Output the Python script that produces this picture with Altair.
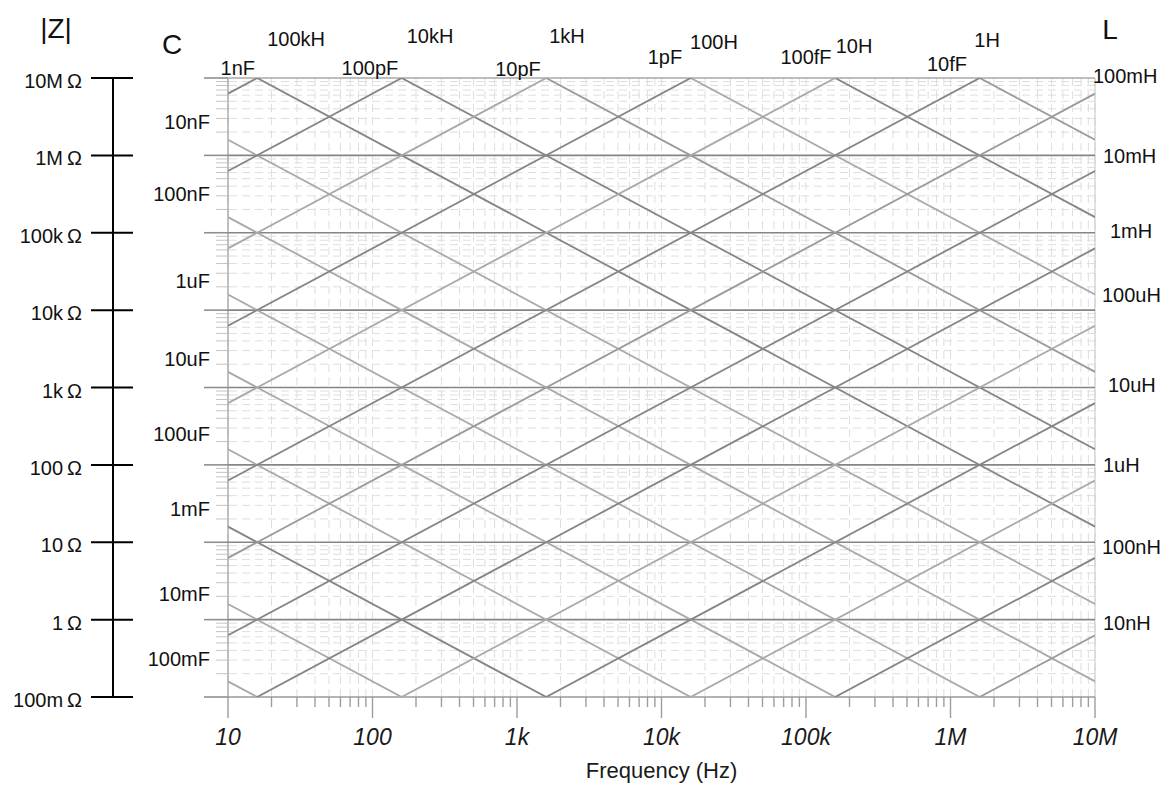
import math
import altair as alt
import pandas as pd

FONT = "Liberation Sans"

# ---------------- data ----------------
freq_decades = [10, 100, 1000, 10000, 100000, 1000000, 10000000]
freq_tick_labels = ["10", "100", "1k", "10k", "100k", "1M", "10M"]
minor_steps = [2, 3, 4, 5, 6, 7, 8, 9]
x_title = "Frequency (Hz)"

z_decades = [1e7, 1e6, 1e5, 1e4, 1e3, 1e2, 1e1, 1e0, 1e-1]
z_tick_labels = ["10M\u2009Ω", "1M\u2009Ω", "100k\u2009Ω", "10k\u2009Ω", "1k\u2009Ω",
                 "100\u2009Ω", "10\u2009Ω", "1\u2009Ω", "100m\u2009Ω"]
z_rule_tone = ["edge", "line", "line", "line", "line", "line", "line", "line", "bottom"]

# capacitors (Z = 1 / (2 pi f C))
cap_names = ["10fF", "100fF", "1pF", "10pF", "100pF", "1nF", "10nF", "100nF",
             "1uF", "10uF", "100uF", "1mF", "10mF", "100mF"]
cap_values = [1e-14, 1e-13, 1e-12, 1e-11, 1e-10, 1e-9, 1e-8, 1e-7,
              1e-6, 1e-5, 1e-4, 1e-3, 1e-2, 1e-1]
cap_tones = ["light", "mid", "dark", "light", "mid", "mid", "dark", "dark",
             "dark", "dark", "dark", "mid", "dark", "dark"]

# inductors (Z = 2 pi f L)
ind_names = ["100kH", "10kH", "1kH", "100H", "10H", "1H", "100mH", "10mH",
             "1mH", "100uH", "10uH", "1uH", "100nH", "10nH"]
ind_values = [1e5, 1e4, 1e3, 1e2, 1e1, 1e0, 1e-1, 1e-2,
              1e-3, 1e-4, 1e-5, 1e-6, 1e-7, 1e-8]
ind_tones = ["mid", "mid", "dark", "mid", "dark", "mid", "light", "mid",
             "mid", "dark", "mid", "dark", "mid", "light"]

# annotation anchors (frequency in Hz, impedance in ohm)
top_c_text = ["1nF", "100pF", "10pF", "1pF", "100fF", "10fF"]
top_c_f = [11.7, 96.0, 1016.0, 10570.0, 100000.0, 946000.0]
top_c_z = [1.31e7, 1.31e7, 1.27e7, 1.81e7, 1.81e7, 1.47e7]

top_l_text = ["100kH", "10kH", "1kH", "100H", "10H", "1H"]
top_l_f = [29.6, 250.0, 2218.0, 23070.0, 214800.0, 1.79e6]
top_l_z = [3.10e7, 3.39e7, 3.39e7, 2.83e7, 2.52e7, 3.01e7]

left_c_text = ["10nF", "100nF", "1uF", "10uF", "100uF", "1mF", "10mF", "100mF"]
left_c_f = [7.5, 7.5, 7.5, 7.5, 7.5, 7.5, 7.5, 7.5]
left_c_z = [2.62e6, 3.08e5, 2.31e4, 2265.0, 243.0, 26.1, 2.08, 0.30]

right_l_text = ["100mH", "10mH", "1mH", "100uH", "10uH", "1uH", "100nH", "10nH"]
right_l_f = [9.68e6, 1.135e7, 1.27e7, 1.117e7, 1.23e7, 1.135e7, 1.117e7, 1.135e7]
right_l_z = [1.03e7, 9.53e5, 1.02e5, 1.52e4, 1047.0, 96.8, 8.43, 0.879]

header_text = ["|Z|", "C", "L"]
header_f = [0.645, 4.10, 1.27e7]
header_z = [4.17e7, 2.59e7, 4.05e7]

# ---------------- tables ----------------
f_lo, f_hi = freq_decades[0], freq_decades[-1]
line_rows = []
for n, c, t in zip(cap_names, cap_values, cap_tones):
    for f in (f_lo, f_hi):
        line_rows.append({"name": n, "f": f, "z": 1.0 / (2 * math.pi * f * c), "tone": t})
for n, l, t in zip(ind_names, ind_values, ind_tones):
    for f in (f_lo, f_hi):
        line_rows.append({"name": n, "f": f, "z": 2 * math.pi * f * l, "tone": t})
df_lines = pd.DataFrame(line_rows)

f_minor = [float(f"{k}e{e}") for e in range(1, 7) for k in minor_steps]
z_minor = [float(f"{k}e{e}") for e in range(-1, 7) for k in minor_steps]
df_fdec = pd.DataFrame({"f": freq_decades, "label": freq_tick_labels})
df_fmin = pd.DataFrame({"f": f_minor})
df_fall = pd.DataFrame({"f": freq_decades + f_minor})
df_zdec = pd.DataFrame({"z": z_decades, "label": z_tick_labels, "tone": z_rule_tone})
df_zmin = pd.DataFrame({"z": z_minor})

xs = alt.Scale(type="log", domain=[10, 1e7])
ys = alt.Scale(type="log", domain=[0.1, 1e7])

W, H = 867, 619

def X(field="f"):
    return alt.X(f"{field}:Q", scale=xs, axis=None)

def Y(field="z"):
    return alt.Y(f"{field}:Q", scale=ys, axis=None)

# ---------------- grid ----------------
vgrid = alt.Chart(df_fall).mark_rule(color="#dedede", strokeWidth=1, strokeDash=[8, 5]).encode(x=X())
hgrid = alt.Chart(df_zmin).mark_rule(color="#dedede", strokeWidth=1, strokeDash=[8, 5]).encode(y=Y())

left_minor_ticks = alt.Chart(df_zmin).mark_rule(color="#c4c4c4", strokeWidth=1).encode(
    x=alt.value(-12), x2=alt.value(0), y=Y())
left_major_ticks = alt.Chart(df_zdec).mark_rule(color="#8f8f8f", strokeWidth=1.6).encode(
    x=alt.value(-24), x2=alt.value(0), y=Y())

bottom_minor_ticks = alt.Chart(df_fmin).mark_rule(color="#9d9d9d", strokeWidth=1.4).encode(
    x=X(), y=alt.value(H), y2=alt.value(H + 10))
bottom_major_ticks = alt.Chart(df_fdec).mark_rule(color="#9d9d9d", strokeWidth=1.4).encode(
    x=X(), y=alt.value(H), y2=alt.value(H + 21))

left_border = alt.Chart(pd.DataFrame({"f": [f_lo]})).mark_rule(color="#a8a8a8", strokeWidth=1.4).encode(x=X())
right_border = alt.Chart(pd.DataFrame({"f": [f_hi]})).mark_rule(color="#cfcfcf", strokeWidth=1.2).encode(x=X())

decade_rules = alt.Chart(df_zdec).mark_rule(strokeWidth=1.6).encode(
    y=Y(),
    color=alt.Color("tone:N", scale=alt.Scale(domain=["edge", "line", "bottom"],
                                              range=["#a9a9a9", "#858585", "#9a9a9a"]), legend=None))

# ---------------- component lines ----------------
lines = alt.Chart(df_lines).mark_line(clip=True, strokeWidth=1.8).encode(
    x=X(),
    y=Y(),
    detail="name:N",
    color=alt.Color("tone:N", scale=alt.Scale(domain=["dark", "mid", "light"],
                                              range=["#484848", "#6f6f6f", "#989898"]), legend=None),
)

# ---------------- frequency axis labels ----------------
x_labels = alt.Chart(df_fdec).mark_text(align="center", baseline="middle", font=FONT, fontSize=23,
                                        fontStyle="italic", color="#1a1a1a").encode(
    x=X(), y=alt.value(H + 41), text="label:N")
x_title_mark = alt.Chart(pd.DataFrame({"t": [x_title]})).mark_text(
    align="center", baseline="alphabetic", font=FONT, fontSize=22, color="#1a1a1a").encode(
    x=alt.value(W / 2), y=alt.value(H + 81), text="t:N")

# ---------------- text ----------------
def text_layer(texts, fs, zs, align, size, dy=0):
    df = pd.DataFrame({"t": texts, "f": fs, "z": zs})
    return alt.Chart(df).mark_text(align=align, baseline="middle", font=FONT, fontSize=size,
                                   color="#111111", dy=dy).encode(x=X(), y=Y(), text="t:N")

t_top_c = text_layer(top_c_text, top_c_f, top_c_z, "center", 20)
t_top_l = text_layer(top_l_text, top_l_f, top_l_z, "center", 20)
t_left_c = text_layer(left_c_text, left_c_f, left_c_z, "right", 20)
t_right_l = text_layer(right_l_text, right_l_f, right_l_z, "left", 20)
t_head = text_layer(header_text, header_f, header_z, "center", 28)

# ---------------- |Z| axis ----------------
zaxis_line = alt.Chart(pd.DataFrame({"z": [z_decades[0]], "z2": [z_decades[-1]]})).mark_rule(
    color="black", strokeWidth=2).encode(x=alt.value(-115), y=Y(), y2="z2:Q")
zaxis_ticks = alt.Chart(df_zdec).mark_rule(color="black", strokeWidth=2).encode(
    x=alt.value(-137), x2=alt.value(-95), y=Y())
zaxis_labels = alt.Chart(df_zdec).mark_text(align="right", baseline="middle", font=FONT,
                                            fontSize=20, color="#111111", dy=4).encode(
    x=alt.value(-146), y=Y(), text="label:N")

chart = alt.layer(
    vgrid, hgrid, left_minor_ticks, bottom_minor_ticks, bottom_major_ticks,
    left_border, right_border, decade_rules, left_major_ticks, lines,
    x_labels, x_title_mark,
    t_top_c, t_top_l, t_left_c, t_right_l, t_head,
    zaxis_line, zaxis_ticks, zaxis_labels,
).properties(
    width=W, height=H,
    padding={"left": 220, "top": 70, "right": 67, "bottom": 86},
    autosize=alt.AutoSizeParams(type="none"),
    background="white",
).configure_view(stroke=None)

chart.save("out.html", embed_options={"renderer": "svg", "actions": False})
